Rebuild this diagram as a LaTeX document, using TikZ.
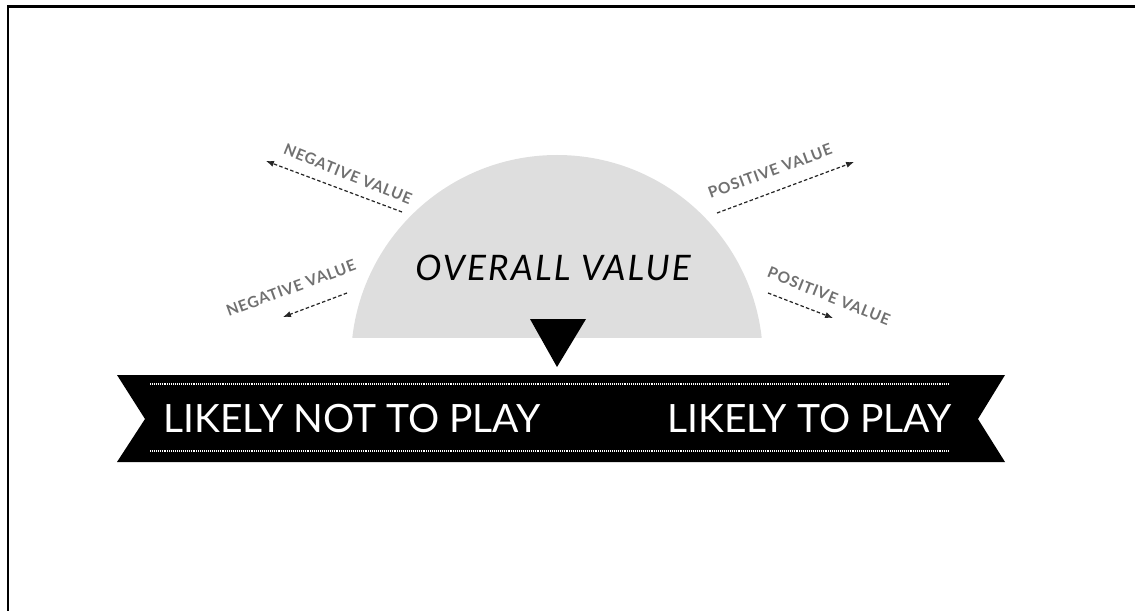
\documentclass[tikz,border=0pt]{standalone}
\usepackage{fontspec}
\setmainfont{Lato}
\newfontfamily\manofont{Lato}[LetterSpace=6]
\newfontfamily\etichfont{Lato}[LetterSpace=5]
\usetikzlibrary{arrows.meta}
\definecolor{grigiocupola}{RGB}{222,222,222}
\definecolor{grigioscritta}{RGB}{112,112,112}

\begin{document}
\begin{tikzpicture}[x=0.02cm, y=-0.02cm,
	cornice/.style={line width=1.7pt, black},
	cupola/.style={fill=grigiocupola},
	punta/.style={fill=black},
	nastro/.style={fill=black},
	puntini/.style={white, line width=0.9pt, dash pattern=on 0.5pt off 0.6pt},
	titolo/.style={white, font=\fontsize{22.2}{24}\selectfont, inner sep=0pt},
	valore/.style={font=\manofont\itshape\fontsize{20}{22}\selectfont, inner sep=0pt},
	etich/.style={grigioscritta, font=\etichfont\bfseries\fontsize{8.8}{10}\selectfont, inner sep=0pt},
	freccia/.style={black!85, line width=0.7pt, dash pattern=on 2pt off 1.3pt, -{Latex[length=4.5pt,width=3.6pt]}},
	]
	\useasboundingbox (0,0) rectangle (1135,611);
	
	%% cornice (lati sinistro e superiore)
	\draw[cornice] (8,611) -- (8,6.5) -- (1135,6.5);
	
	%% cupola (segmento di cerchio)
	\begin{scope}
		\clip (0,0) rectangle (1135,337);
		\fill[cupola] (557,361) circle (206);
	\end{scope}
	\node[valore, anchor=base] (totale) at (553,280) {OVERALL VALUE};
	
	%% indice
	\fill[punta] (530,319) -- (586,319) -- (557,367) -- cycle;
	
	%% nastro con le due scritte
	\fill[nastro] (117,375) -- (1005,375) -- (978,419) -- (1005,462)
		-- (117,462) -- (145,419) -- cycle;
	\foreach \y in {384,451}
	\draw[puntini] (150,\y) -- (950,\y);
	\node[titolo, anchor=base west] (nongioca) at (163,432) {LIKELY NOT TO PLAY};
	\node[titolo, anchor=base east] (gioca) at (952,432) {LIKELY TO PLAY};
	
	%% frecce a sinistra
	\coordinate (negA0) at (402,212); \coordinate (negA1) at (266,161);
	\draw[freccia] (negA0) -- (negA1);
	\node[etich, rotate=-22] (negAtesto) at (348,174) {NEGATIVE VALUE};
	\coordinate (negB0) at (347,293); \coordinate (negB1) at (283,317);
	\draw[freccia] (negB0) -- (negB1);
	\node[etich, rotate=20] (negBtesto) at (291,288) {NEGATIVE VALUE};
	
	%% frecce a destra
	\coordinate (posA0) at (717,213); \coordinate (posA1) at (854,162);
	\draw[freccia] (posA0) -- (posA1);
	\node[etich, rotate=20] (posAtesto) at (770,171) {POSITIVE VALUE};
	\coordinate (posB0) at (768,293); \coordinate (posB1) at (833,318);
	\draw[freccia] (posB0) -- (posB1);
	\node[etich, rotate=-22] (posBtesto) at (829,296) {POSITIVE VALUE};
	
\end{tikzpicture}
\end{document}
